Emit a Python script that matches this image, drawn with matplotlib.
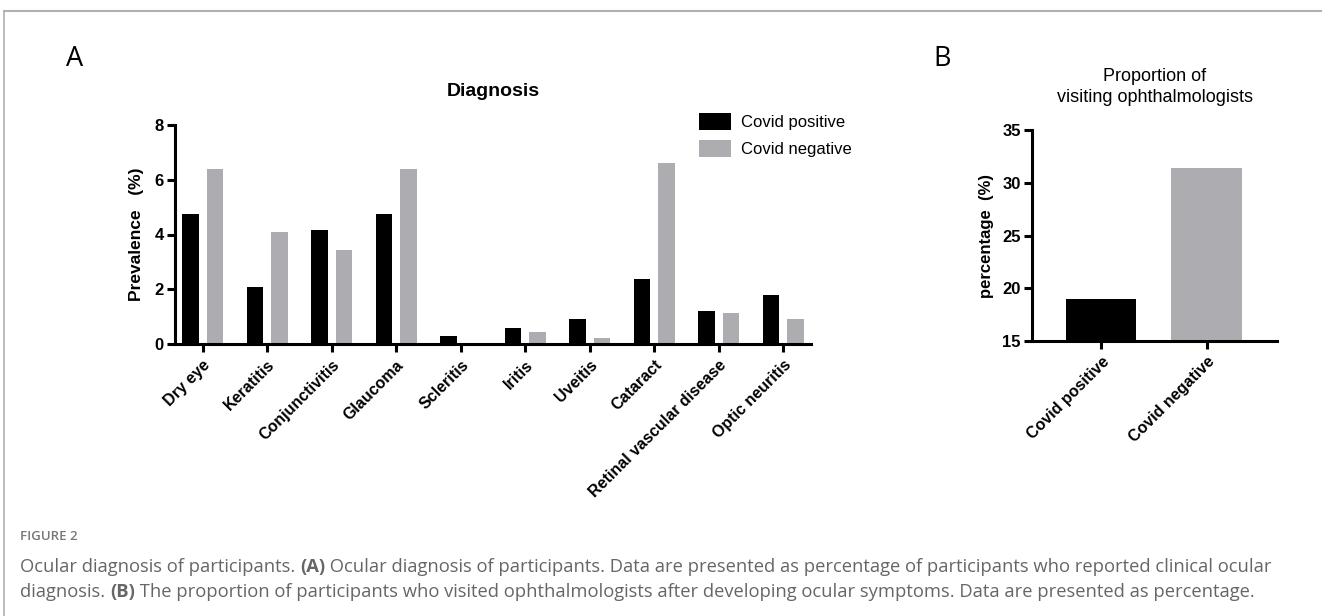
import matplotlib
matplotlib.use("Agg")
import matplotlib.pyplot as plt
from matplotlib.patches import Patch
from matplotlib.lines import Line2D
import numpy as np

# ---------------- data ----------------
diagnoses = ["Dry eye", "Keratitis", "Conjunctivitis", "Glaucoma", "Scleritis",
             "Iritis", "Uveitis", "Cataract", "Retinal vascular disease", "Optic neuritis"]
covid_pos = [4.75, 2.07, 4.15, 4.75, 0.30, 0.60, 0.90, 2.37, 1.19, 1.78]
covid_neg = [6.40, 4.10, 3.42, 6.40, 0.00, 0.45, 0.23, 6.63, 1.14, 0.90]
a_yticks = [0, 2, 4, 6, 8]

groups_b = ["Covid positive", "Covid negative"]
visit_pct = [18.95, 31.4]
b_yticks = [15, 20, 25, 30, 35]

BLACK = "#000000"
GREY = "#adadb1"

W, H = 1322, 616
fig = plt.figure(figsize=(W / 100, H / 100), dpi=100)
plt.rcParams["font.family"] = ["Liberation Sans", "DejaVu Sans"]

def fx(px):
    return px / W

def fy(py):
    return 1 - py / H

# ---------------- frame lines ----------------
fig.add_artist(Line2D([fx(3.5), fx(3.5)], [fy(11), 0], color="#b0b0b0", lw=1.2))
fig.add_artist(Line2D([fx(3.5), 1], [fy(11), fy(11)], color="#b0b0b0", lw=1.5))

SPW = 2.2
TICK_FS = 12
XT_FS = 11.5

def style_axes(ax):
    for s in ["top", "right"]:
        ax.spines[s].set_visible(False)
    for s in ["left", "bottom"]:
        ax.spines[s].set_linewidth(SPW)
        ax.spines[s].set_capstyle("projecting")
    ax.tick_params(axis="both", width=SPW, length=6, colors="black")
    ax.tick_params(axis="y", pad=2)

# ---------------- panel A ----------------
axA = fig.add_axes([fx(175), fy(344), fx(811) - fx(175), fy(125) - fy(344)])
x = np.arange(len(diagnoses))
bw = 0.25
off = 0.19
axA.bar(x - off, covid_pos, width=bw, color=BLACK, label="Covid positive")
axA.bar(x + off, covid_neg, width=bw, color=GREY, label="Covid negative")
axA.set_xlim(-0.43, len(diagnoses) - 1 + 0.43)
axA.set_ylim(0, 8)
axA.set_yticks(a_yticks)
axA.set_yticklabels([str(v) for v in a_yticks], fontsize=TICK_FS, fontweight="bold")
axA.set_xticks(x)
axA.set_xticklabels(diagnoses, rotation=45, ha="right", rotation_mode="anchor",
                    fontsize=XT_FS, fontweight="bold")
style_axes(axA)
axA.set_ylabel("Prevalence   (%)", fontsize=12.5, fontweight="bold", labelpad=8)
fig.text(fx(493), fy(92), "Diagnosis", ha="center", va="center",
         fontsize=14, fontweight="bold")
handles = [Patch(facecolor=BLACK, edgecolor="none"), Patch(facecolor=GREY, edgecolor="none")]
fig.legend(handles, groups_b, loc="upper left", bbox_to_anchor=(fx(699), fy(113)),
           frameon=False, fontsize=12, handlelength=1.9, handleheight=1.2,
           handletextpad=0.6, labelspacing=0.6, borderpad=0, borderaxespad=0)
fig.text(fx(66), fy(59), "A", ha="left", va="center", fontsize=19.5,
         family=["Open Sans", "DejaVu Sans"])

# ---------------- panel B ----------------
axB = fig.add_axes([fx(1032), fy(341), fx(1277) - fx(1032), fy(130) - fy(341)])
xb = np.arange(len(groups_b))
axB.bar(xb, visit_pct, width=0.667, color=[BLACK, GREY])
axB.set_xlim(-0.66, 1.67)
axB.set_ylim(15, 35)
axB.set_yticks(b_yticks)
axB.set_yticklabels([str(v) for v in b_yticks], fontsize=TICK_FS, fontweight="bold")
axB.set_xticks(xb)
axB.set_xticklabels(groups_b, rotation=45, ha="right", rotation_mode="anchor",
                    fontsize=XT_FS, fontweight="bold")
style_axes(axB)
axB.set_ylabel("percentage  (%)", fontsize=12, fontweight="bold", labelpad=6)
fig.text(fx(1155), fy(87), "Proportion of\nvisiting ophthalmologists", ha="center",
         va="center", fontsize=13, linespacing=1.3)
fig.text(fx(933), fy(59), "B", ha="left", va="center", fontsize=19.5,
         family=["Open Sans", "DejaVu Sans"])

# ---------------- caption ----------------
CAP_COLOR = "#666666"
CAP_FONT = ["Open Sans", "DejaVu Sans"]
fig.text(fx(20), fy(537), "FIGURE 2", ha="left", va="center", fontsize=9.5,
         color="#777777", family=CAP_FONT, fontweight="semibold")

renderer = fig.canvas.get_renderer()

def rich_line(x0, y0, parts, size):
    xpix = x0
    for txt, bold in parts:
        t = fig.text(fx(xpix), fy(y0), txt, ha="left", va="center", fontsize=size,
                     color=CAP_COLOR, family=CAP_FONT,
                     fontweight="bold" if bold else "normal")
        bb = t.get_window_extent(renderer=renderer)
        xpix += bb.width

CAP_SIZE = 13.2
rich_line(20, 567, [("Ocular diagnosis of participants. ", False), ("(A)", True),
                    (" Ocular diagnosis of participants. Data are presented as percentage of participants who reported clinical ocular", False)], CAP_SIZE)
rich_line(20, 592, [("diagnosis. ", False), ("(B)", True),
                    (" The proportion of participants who visited ophthalmologists after developing ocular symptoms. Data are presented as percentage.", False)], CAP_SIZE)

fig.savefig("out.png", dpi=100, facecolor="white")
